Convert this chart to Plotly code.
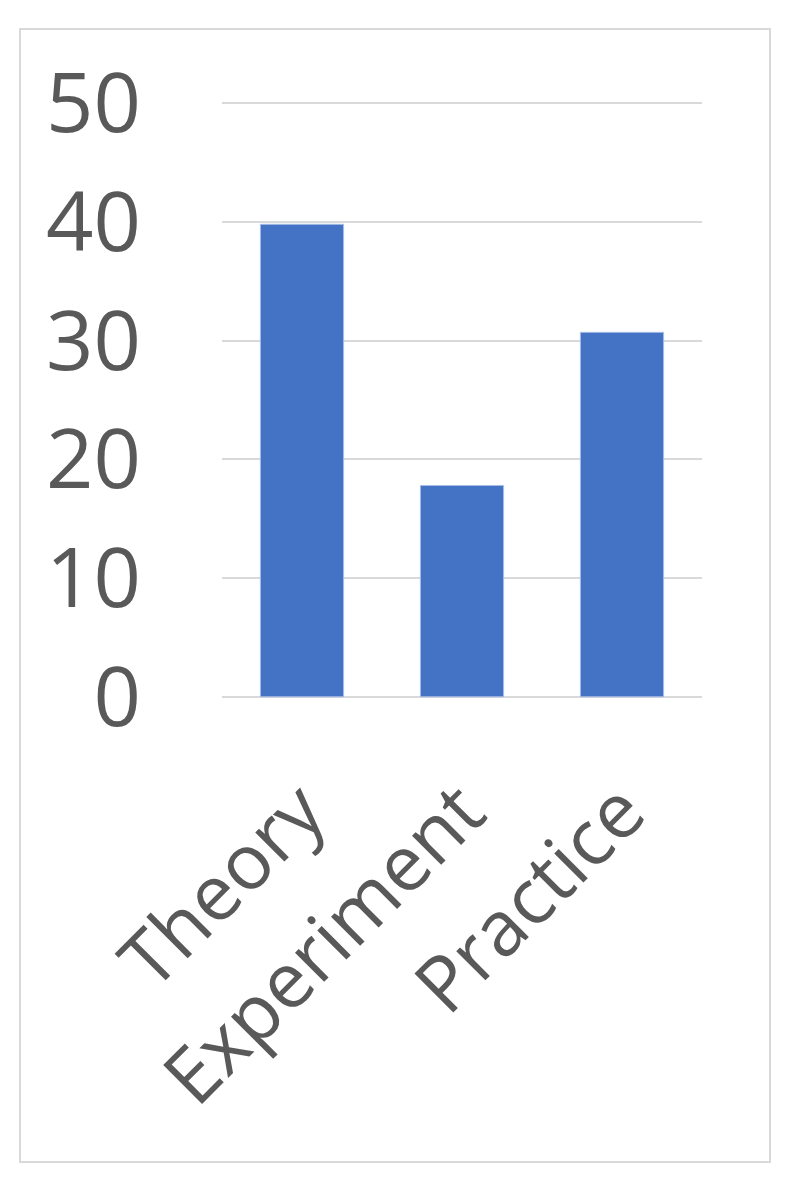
import plotly.graph_objects as go

categories = ["Theory", "Experiment", "Practice"]
values = [39.8, 17.8, 30.7]
y_ticks = [0, 10, 20, 30, 40, 50]

text_color = "#595959"
grid_color = "#d9d9d9"
bar_color = "#4472c4"

# page has an 8px body margin, so the figure is drawn 8px in
W, H = 787, 1180
L, R, T, B = 214, 93, 94, 490

fig = go.Figure()
fig.add_trace(go.Bar(x=categories, y=values,
                     marker=dict(color=bar_color,
                                 line=dict(color="#a9bde6", width=1))))

# light frame around the whole chart area
pw, ph = W - L - R, H - T - B
fig.add_shape(type="rect", xref="paper", yref="paper",
              x0=(12 - L) / pw, x1=(762 - L) / pw,
              y0=(H - B - 1154) / ph, y1=(H - B - 21) / ph,
              line=dict(color=grid_color, width=2), layer="below")

fig.update_layout(
    width=W, height=H,
    margin=dict(l=L, r=R, t=T, b=B),
    paper_bgcolor="white", plot_bgcolor="white",
    bargap=0.48,
    showlegend=False,
    font=dict(family="Open Sans", color=text_color, size=80),
)
fig.update_yaxes(range=[-0.1, 50.1], tickvals=y_ticks, showgrid=True,
                 gridcolor=grid_color, gridwidth=2, zeroline=False,
                 showline=False, ticks="", ticklabelstandoff=80,
                 tickfont=dict(size=83, color=text_color))
fig.update_xaxes(tickangle=-45, showline=False, ticks="", showgrid=False,
                 ticklabelstandoff=52,
                 tickfont=dict(size=77, color=text_color))

fig.write_html("out.html")
